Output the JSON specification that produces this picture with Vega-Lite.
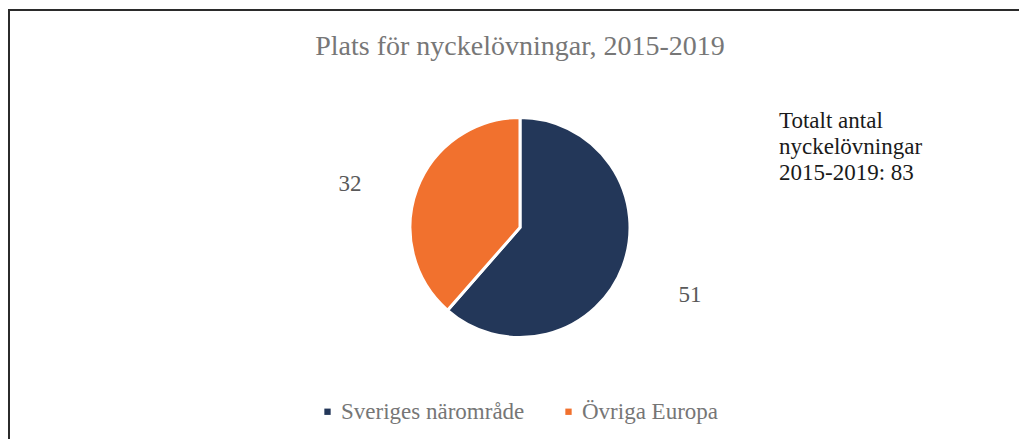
{
  "$schema": "https://vega.github.io/schema/vega-lite/v6.json",
  "width": 1022,
  "height": 435,
  "autosize": {"type": "none"},
  "padding": {"left": 9, "top": 10, "right": -12, "bottom": -6},
  "background": "white",
  "view": {"stroke": "#2b2b2b", "strokeWidth": 2, "strokeDash": [1022, 1457, 435]},
  "config": {
    "font": "Liberation Serif"
  },
  "title": {
    "text": "Plats för nyckelövningar, 2015-2019",
    "font": "Liberation Serif",
    "fontSize": 28,
    "fontWeight": "normal",
    "color": "#777777",
    "anchor": "middle",
    "baseline": "alphabetic",
    "offset": -73
  },
  "data": {
    "values": [
      {"plats": "Sveriges närområde", "antal": 51},
      {"plats": "Övriga Europa", "antal": 32}
    ]
  },
  "encoding": {
    "theta": {"field": "antal", "type": "quantitative", "stack": true},
    "order": {"field": "antal", "type": "quantitative", "sort": "descending"}
  },
  "layer": [
    {
      "mark": {"type": "arc", "outerRadius": 110, "stroke": "white", "strokeWidth": 3},
      "encoding": {
        "color": {
          "field": "plats",
          "type": "nominal",
          "scale": {"domain": ["Sveriges närområde", "Övriga Europa"], "range": ["#233759", "#F1712E"]},
          "legend": {
            "orient": "none",
            "direction": "horizontal",
            "legendX": 307,
            "legendY": 390,
            "title": null,
            "symbolType": "square",
            "symbolSize": 40,
            "symbolStrokeWidth": 0,
            "labelFont": "Liberation Serif",
            "labelFontSize": 23,
            "labelColor": "#767676",
            "labelOffset": 2,
            "columnPadding": 32,
            "labelLimit": 400
          }
        }
      }
    },
    {
      "mark": {"type": "text", "radius": 179, "thetaOffset": -0.042, "dy": 12, "font": "Liberation Serif", "fontSize": 23, "color": "#595959"},
      "encoding": {
        "text": {"field": "antal", "type": "quantitative"},
        "opacity": {
          "datum": "Totalt",
          "type": "nominal",
          "scale": {"range": [1]},
          "legend": {
            "orient": "none",
            "legendX": 770,
            "legendY": 100,
            "title": ["Totalt antal", "nyckelövningar", "2015-2019: 83"],
            "titleFont": "Liberation Serif",
            "titleFontSize": 23,
            "titleFontWeight": "normal",
            "titleColor": "#1a1a1a",
            "titleLineHeight": 26,
            "symbolOpacity": 0,
            "symbolSize": 0,
            "labelExpr": "''"
          }
        }
      }
    }
  ]
}
